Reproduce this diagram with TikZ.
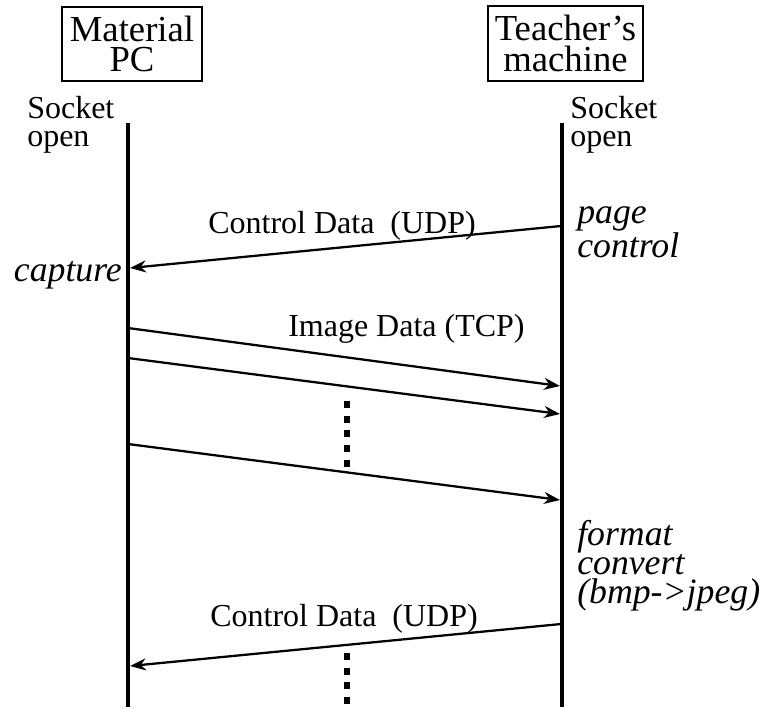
\documentclass[tikz,border=0pt]{standalone}
\usepackage{fontspec}
\setmainfont{Liberation Serif}
\usetikzlibrary{arrows.meta}
\tikzstyle{arrow} = [line width=1.7pt,-{Stealth[length=12pt,width=9pt]}]

\begin{document}
\begin{tikzpicture}
        [
            x=0.75pt, y=-0.75pt,
            box/.style={rectangle,draw=black,line width=1.5pt,align=center,inner sep=0pt,font=\fontsize{27.5}{23}\selectfont},
            lifeline/.style={line width=3.4pt},
            txt/.style={anchor=base west,inner sep=0pt,align=left,font=\fontsize{24}{21}\selectfont},
            act/.style={anchor=base west,inner sep=0pt,align=left,font=\itshape\fontsize{26.8}{22.5}\selectfont},
            dots/.style={line width=4.9pt,dash pattern=on 5.25pt off 5.75pt},
        ]
    \useasboundingbox (0,0) rectangle (763,707);

    % hosts
    \node[box,minimum width=105pt,minimum height=55.5pt] (mpc) at (132,44) {Material\\PC};
    \node[box,minimum width=116pt,minimum height=56pt] (tm) at (565.5,43.5) {Teacher's\\machine};

    % lifelines
    \coordinate (mtop) at (128,123);
    \coordinate (mbot) at (128,707);
    \coordinate (ttop) at (562,123);
    \coordinate (tbot) at (562,707);
    \draw[lifeline] (mtop) -- (mbot);
    \draw[lifeline] (ttop) -- (tbot);

    \node[txt] (mopen) at (27,146) {Socket\\open};
    \node[txt] (topen) at (570,146) {Socket\\open};

    % control data
    \coordinate (cd1s) at (561,226);
    \coordinate (cd1e) at (130,268);
    \draw[arrow] (cd1s) -- (cd1e);
    \node[txt] (cd1) at (208,233) {Control Data~~(UDP)};
    \node[act] (page) at (577,257) {page\\control};
    \node[act,anchor=base east] (capt) at (122,281) {capture};

    % image data
    \foreach \ys/\ye [count=\i] in {328/386,358/414,444/500}{
        \coordinate (im\i s) at (128,\ys);
        \coordinate (im\i e) at (560,\ye);
        \draw[arrow] (im\i s) -- (im\i e);
    }
    \node[txt] (img) at (288,336) {Image Data (TCP)};
    \coordinate (d1s) at (347,401);
    \coordinate (d1e) at (347,468);
    \draw[dots] (d1s) -- (d1e);

    \node[act,font=\itshape\fontsize{26.8}{21.75}\selectfont] (conv) at (577,603) {format\\convert\\(bmp->jpeg)};

    % control data again
    \coordinate (cd2s) at (561,624);
    \coordinate (cd2e) at (130,666);
    \draw[arrow] (cd2s) -- (cd2e);
    \node[txt] (cd2) at (210,626) {Control Data~~(UDP)};
    \coordinate (d2s) at (347,653);
    \coordinate (d2e) at (347,707);
    \draw[dots] (d2s) -- (d2e);
\end{tikzpicture}
\end{document}
